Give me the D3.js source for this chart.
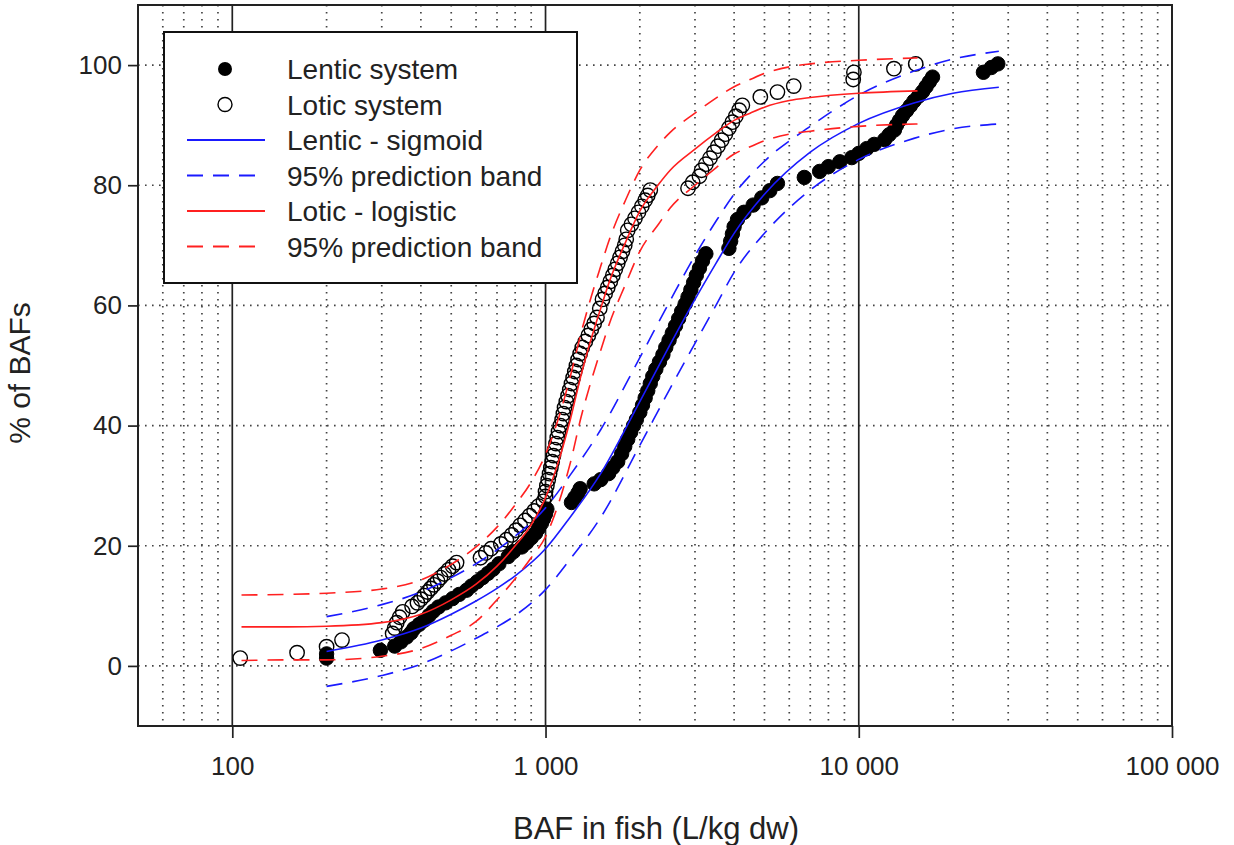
<!DOCTYPE html>
<html>
<head>
<meta charset="utf-8">
<script src="https://cdn.jsdelivr.net/npm/d3@7"></script>
<style>
  html, body { margin: 0; padding: 0; background: #ffffff; }
  svg { display: block; font-family: "Liberation Sans", Arial, sans-serif; }
</style>
</head>
<body>
<svg id="chart" width="1234" height="845"></svg>
<script>
// ---------------- data ----------------
const lenticPoints = [
  [200,1.3],[200,2.0],[297,2.6],
  [330,3.3],[345,4.0],[360,4.8],[372,5.5],
  [380,6.2],[395,6.9],[410,7.6],[425,8.4],[438,9.1],
  [455,9.8],[480,10.5],[505,11.2],[530,11.9],[560,12.6],
  [580,13.3],[605,14.0],[630,14.7],[655,15.4],[680,16.1],
  [710,17.0],[760,18.2],[790,19.0],
  [840,19.8],[870,20.5],[900,21.3],[930,22.1],[950,22.9],[970,23.7],[985,24.5],[1000,25.3],[1010,26.1],
  [1210,27.2],[1240,28.0],[1270,28.8],[1290,29.5],
  [1430,30.3],[1500,31.0],
  [1590,32],[1640,33],[1700,34],[1750,35.3],[1790,36.5],[1830,37.7],[1870,38.9],[1910,40],
  [1950,41],[2000,42.2],[2040,43.4],[2080,44.6],[2120,45.8],[2160,47],[2200,48.2],
  [2250,49.4],[2310,50.6],[2370,51.8],[2420,53],[2480,54.2],[2540,55.4],[2600,56.6],[2660,57.8],[2720,59],
  [2790,60.2],[2850,61.4],[2910,62.6],[2970,63.8],[3030,65],[3100,66.2],[3170,67.4],[3250,68.6],
  [3850,69.5],[3900,70.7],[3950,71.9],[4000,73.1],[4100,74.3],[4300,75.5],[4600,76.7],[4900,77.9],
  [5200,79.1],[5500,80.3],
  [6700,81.3],
  [7500,82.3],[8000,83.1],[8700,83.9],
  [9500,84.6],[10000,85.3],[10600,86.1],[11200,86.8],
  [12100,87.6],[12500,88.4],[13000,89.2],
  [13200,90],[13500,90.8],[13800,91.6],[14200,92.4],[14600,93.2],[15000,94],[15500,94.8],[16000,95.6],[16400,96.4],[16800,97.2],[17200,98],
  [25000,98.8],[26500,99.6],[27800,100.2]
];

const loticPoints = [
  [106,1.3],[161,2.2],[200,3.2],[224,4.3],
  [325,5.4],[330,6.3],[335,7.2],[342,8.1],[350,9.0],
  [375,9.9],[390,10.5],[400,11.1],[410,11.7],[420,12.3],
  [430,12.9],[440,13.5],[452,14.1],[462,14.7],
  [475,15.3],[490,16.0],[505,16.6],[520,17.2],
  [620,18.0],[645,18.8],[670,19.5],
  [720,20.3],[750,21.0],[780,21.8],[805,22.6],[830,23.4],
  [860,24.2],[890,25.0],[920,25.8],[950,26.6],[985,27.4],[1000,28.2],
  [1000,29],[1010,30],[1020,31],[1030,32],[1040,33],[1050,34],[1060,35],[1070,36],[1080,37],[1090,38],[1100,39],[1115,40],
  [1130,41],[1140,42],[1150,43],[1165,44],[1180,45],[1195,46],[1210,47],[1225,48],[1240,49],[1255,50],
  [1270,51],[1290,52],[1310,53],[1340,54],[1370,55],[1400,56],
  [1430,57],[1460,58],[1490,59.5],[1520,61],[1550,62],[1580,63],[1610,64],[1640,65],[1670,66],[1700,67],
  [1730,68],[1760,69],[1790,70],[1810,71],[1830,72.5],[1880,73.5],[1930,74.5],[1980,75.5],[2030,76.5],
  [2080,77.5],[2120,78.3],[2160,79.2],
  [2850,79.5],[2950,80.5],[3100,81.5],
  [3150,82.5],[3250,83.5],[3350,84.5],[3450,85.5],[3550,86.5],[3650,87.5],[3750,88.5],[3850,89.5],
  [3950,90.5],[4050,91.5],[4150,92.5],[4250,93.3],
  [4850,94.7],[5500,95.5],[6200,96.5],[9600,97.6],[9650,98.8],[12950,99.4],[15200,100.2]
];

// Lentic sigmoid fit and 95% prediction band
const lenticFitX     = [200,300,400,500,600,700,800,1000,1200,1500,2000,2500,3000,3500,4000,5000,7000,10000,15000,20000,28000];
const lenticFitY     = [2.4,4.3,6.3,8.6,10.8,12.9,15,19.5,24.8,32,44,53.5,61,67,72,78.5,85.5,90.3,93.7,95.3,96.3];
const lenticUpperY   = [8.2,10.2,12.3,14.7,17,19.3,21.6,26.3,31.8,39.3,51.3,60.8,68.3,74,78.5,84,89.8,95,99,101,102.3];
const lenticLowerY   = [-3.4,-1.6,0.3,2.5,4.6,6.5,8.4,12.7,17.8,24.7,36.7,46.2,53.7,60,65.5,72,79.2,84.3,87.8,89.4,90.2];

// Lotic logistic fit and 95% prediction band
const loticFitX      = [107,150,200,300,400,500,600,700,800,900,1000,1100,1200,1300,1400,1500,1600,1800,2000,2300,2500,3000,3500,4000,4500,5000,6000,7000,10000,15400];
const loticFitY      = [6.5,6.5,6.6,7.2,8.6,11,13.6,16.6,20,23.5,28,34,41,48.5,54.5,59.5,64,70.5,75.7,80.2,82.5,86,88.7,90.8,92,93,94.1,94.6,95.3,95.7];
const loticUpperY    = [11.8,11.9,12.1,12.8,14.3,16.9,19.8,23.1,26.8,30.6,35.2,41.2,48.2,55.5,61.5,66.5,71,77.5,82.5,86.8,88.8,92,94.5,96.4,97.6,98.6,99.7,100.2,100.8,101.2];
const loticLowerY    = [0.9,1.0,1.0,1.6,2.9,5.1,7.4,11,14.5,18,21.5,27,33.8,41.5,47.5,52.5,57,63.5,69,73.6,76.2,80,82.9,85.2,86.4,87.4,88.5,89,89.8,90.2];

// axes
const xTickValues = [100, 1000, 10000, 100000];
const yTickValues = [0, 20, 40, 60, 80, 100];
const xMinorValues = [60,70,80,90,200,300,400,500,600,700,800,900,2000,3000,4000,5000,6000,7000,8000,9000,20000,30000,40000,50000,60000,70000,80000,90000];
const xMajorGrid = [100, 1000, 10000];

const legendItems = [
  {label: "Lentic system", type: "filled"},
  {label: "Lotic system", type: "open"},
  {label: "Lentic - sigmoid", type: "line", color: "#1a1aff", dash: null},
  {label: "95% prediction band", type: "line", color: "#1a1aff", dash: "16,10"},
  {label: "Lotic - logistic", type: "line", color: "#ff2020", dash: null},
  {label: "95% prediction band", type: "line", color: "#ff2020", dash: "16,10"}
];

// ---------------- drawing ----------------
const svg = d3.select("#chart");
const L = 138, R = 1172, T = 5, B = 726;

const x = d3.scaleLog().domain([50, 100000]).range([L, R]);
const y = d3.scaleLinear().domain([-10, 110]).range([B, T]);

const fmt = d3.formatLocale({decimal: ".", thousands: " ", grouping: [3], currency: ["", ""]}).format(",");

svg.append("rect").attr("x", 0).attr("y", 0).attr("width", 1234).attr("height", 845).attr("fill", "#fff");

const gridDots = "1.6,5.4";
const grid = svg.append("g");
grid.selectAll("line.vmin").data(xMinorValues).join("line")
  .attr("x1", d => x(d)).attr("x2", d => x(d)).attr("y1", T).attr("y2", B)
  .attr("stroke", "#444").attr("stroke-width", 1.7).attr("stroke-dasharray", gridDots);
grid.selectAll("line.h").data(yTickValues).join("line")
  .attr("x1", L).attr("x2", R).attr("y1", d => y(d)).attr("y2", d => y(d))
  .attr("stroke", "#444").attr("stroke-width", 1.7).attr("stroke-dasharray", gridDots);
grid.selectAll("line.vmaj").data(xMajorGrid).join("line")
  .attr("x1", d => x(d)).attr("x2", d => x(d)).attr("y1", T).attr("y2", B)
  .attr("stroke", "#222").attr("stroke-width", 1.7);

// points
const pts = svg.append("g");
pts.selectAll("circle.len").data(lenticPoints).join("circle")
  .attr("cx", d => x(d[0])).attr("cy", d => y(d[1])).attr("r", 7.2)
  .attr("fill", "#000").attr("stroke", "#000").attr("stroke-width", 1);
pts.selectAll("circle.lot").data(loticPoints).join("circle")
  .attr("cx", d => x(d[0])).attr("cy", d => y(d[1])).attr("r", 7.2)
  .attr("fill", "none").attr("stroke", "#000").attr("stroke-width", 1.4);

// curves
const line = d3.line().x(d => x(d[0])).y(d => y(d[1])).curve(d3.curveMonotoneX);
function drawCurve(xs, ys, color, dash) {
  svg.append("path").datum(xs.map((v, i) => [v, ys[i]]))
    .attr("d", line).attr("fill", "none").attr("stroke", color)
    .attr("stroke-width", 1.6).attr("stroke-dasharray", dash);
}
const blue = "#1a1aff", red = "#ff2020";
drawCurve(lenticFitX, lenticFitY, blue, null);
drawCurve(lenticFitX, lenticUpperY, blue, "16,10");
drawCurve(lenticFitX, lenticLowerY, blue, "16,10");
drawCurve(loticFitX, loticFitY, red, null);
drawCurve(loticFitX, loticUpperY, red, "16,10");
drawCurve(loticFitX, loticLowerY, red, "16,10");

// axes
const xAxis = svg.append("g").attr("transform", `translate(0,${B})`)
  .call(d3.axisBottom(x).tickValues(xTickValues).tickFormat(fmt).tickSize(12).tickSizeOuter(0).tickPadding(19));
const yAxis = svg.append("g").attr("transform", `translate(${L},0)`)
  .call(d3.axisLeft(y).tickValues(yTickValues).tickSize(10).tickSizeOuter(0).tickPadding(6));
[xAxis, yAxis].forEach(g => {
  g.select(".domain").remove();
  g.selectAll(".tick line").attr("stroke", "#222").attr("stroke-width", 1.7);
  g.selectAll(".tick text").attr("fill", "#222").style("font-size", "26px")
    .style("font-family", "'Liberation Sans', Arial, sans-serif");
});

// frame
svg.append("rect").attr("x", L).attr("y", T).attr("width", R - L).attr("height", B - T)
  .attr("fill", "none").attr("stroke", "#222").attr("stroke-width", 2);

// axis titles
svg.append("text").attr("x", 656).attr("y", 839).attr("text-anchor", "middle")
  .style("font-size", "31px").attr("fill", "#222").text("BAF in fish (L/kg dw)");
svg.append("text").attr("transform", "translate(30,373) rotate(-90)").attr("text-anchor", "middle")
  .style("font-size", "30px").attr("fill", "#222").text("% of BAFs");

// legend
const lg = svg.append("g");
lg.append("rect").attr("x", 164).attr("y", 32).attr("width", 413).attr("height", 251)
  .attr("fill", "#fff").attr("stroke", "#111").attr("stroke-width", 2);
const rowY = i => 69 + i * 35.5;
legendItems.forEach((it, i) => {
  const cy = rowY(i);
  if (it.type === "filled") {
    lg.append("circle").attr("cx", 225).attr("cy", cy).attr("r", 7).attr("fill", "#000");
  } else if (it.type === "open") {
    lg.append("circle").attr("cx", 225).attr("cy", cy).attr("r", 7).attr("fill", "none")
      .attr("stroke", "#000").attr("stroke-width", 1.4);
  } else {
    lg.append("line").attr("x1", 187).attr("x2", 265).attr("y1", cy).attr("y2", cy)
      .attr("stroke", it.color).attr("stroke-width", 1.8).attr("stroke-dasharray", it.dash);
  }
  lg.append("text").attr("x", 287).attr("y", cy + 10).style("font-size", "28px")
    .attr("fill", "#222").text(it.label);
});
</script>
</body>
</html>
